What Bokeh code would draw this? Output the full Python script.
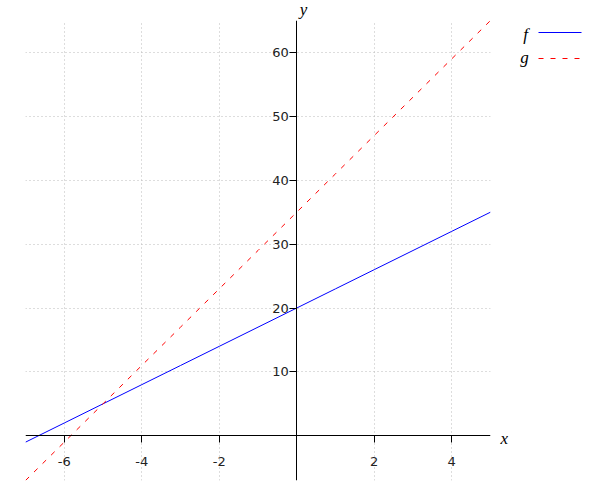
from bokeh.plotting import figure
from bokeh.models import FixedTicker, Range1d
from bokeh.layouts import row, column
from bokeh.embed import file_html
from bokeh.resources import INLINE
from bokeh.core.properties import value

# Data
x_vals = [-7, -6, -5, -4, -3, -2, -1, 0, 1, 2, 3, 4, 5]
f_vals = [-1, 2, 5, 8, 11, 14, 17, 20, 23, 26, 29, 32, 35]
g_vals = [-7, -1, 5, 11, 17, 23, 29, 35, 41, 47, 53, 59, 65]
x_ticks = [-6, -4, -2, 2, 4]
y_ticks = [10, 20, 30, 40, 50, 60]
series_names = ["f", "g"]
series_colors = ["blue", "red"]
axis_names = ["x", "y"]

serif = "Liberation Serif"

def bare(width, height, xr, yr):
    fig = figure(width=width, height=height, x_range=Range1d(*xr), y_range=Range1d(*yr),
                 min_border=0, title=None, output_backend="svg", toolbar_location=None,
                 x_axis_location=None, y_axis_location=None)
    fig.outline_line_color = None
    fig.xgrid.visible = False
    fig.ygrid.visible = False
    return fig

# Main plot
p = figure(width=495, height=464, frame_width=465, frame_height=460, title=None,
           min_border_left=25, min_border_right=5, min_border_top=0, min_border_bottom=4,
           x_range=Range1d(-7, 5), y_range=Range1d(-7, 65),
           output_backend="svg", toolbar_location=None)
p.outline_line_color = None
p.background_fill_color = "white"

p.line(x_vals, f_vals, line_color=series_colors[0], line_width=1)
p.line(x_vals, g_vals, line_color=series_colors[1], line_width=1, line_dash="5 7")

for ax, ticks in ((p.xaxis[0], x_ticks), (p.yaxis[0], y_ticks)):
    ax.ticker = FixedTicker(ticks=ticks)
    ax.fixed_location = 0
    ax.axis_line_color = "black"
    ax.axis_line_width = 1
    ax.major_tick_line_color = "black"
    ax.major_tick_out = 7
    ax.major_tick_in = 0
    ax.minor_tick_line_color = None
    ax.major_label_text_font = "DejaVu Sans"
    ax.major_label_text_font_size = "13px"
    ax.major_label_text_color = "#222222"
    ax.major_label_overrides = {t: str(t) for t in ticks}
p.xaxis.major_label_standoff = 14
p.yaxis.major_label_standoff = 1

for g in (p.xgrid[0], p.ygrid[0]):
    g.grid_line_color = "#bbbbbb"
    g.grid_line_dash = "1 3"
    g.grid_line_width = 1

# Top strip: axis label "y" (pixel coordinates)
top = bare(495, 20, (0, 495), (20, 0))
top.text(x=[296], y=[9], text=[axis_names[1]], text_font=value(serif),
         text_font_style="italic", text_font_size="17px", text_align="center",
         text_baseline="alphabetic", text_color="black")

# Right panel: axis label "x" and legend (pixel coordinates)
leg = bare(89, 484, (495, 584), (484, 0))
leg.text(x=[500], y=[438], text=[axis_names[0]], text_font=value(serif),
         text_font_style="italic", text_font_size="17px", text_align="left",
         text_baseline="alphabetic", text_color="black")
leg.text(x=[525, 524], y=[34, 57], text=series_names, text_font=value(serif),
         text_font_style="italic", text_font_size="17px", text_align="center",
         text_baseline="alphabetic", text_color="black")
leg.line([538, 581], [32, 32], line_color=series_colors[0], line_width=1)
leg.line([538, 581], [58, 58], line_color=series_colors[1], line_width=1, line_dash="5 7")

layout = row(column(top, p), leg)
open("out.html", "w").write(file_html(layout, INLINE))
